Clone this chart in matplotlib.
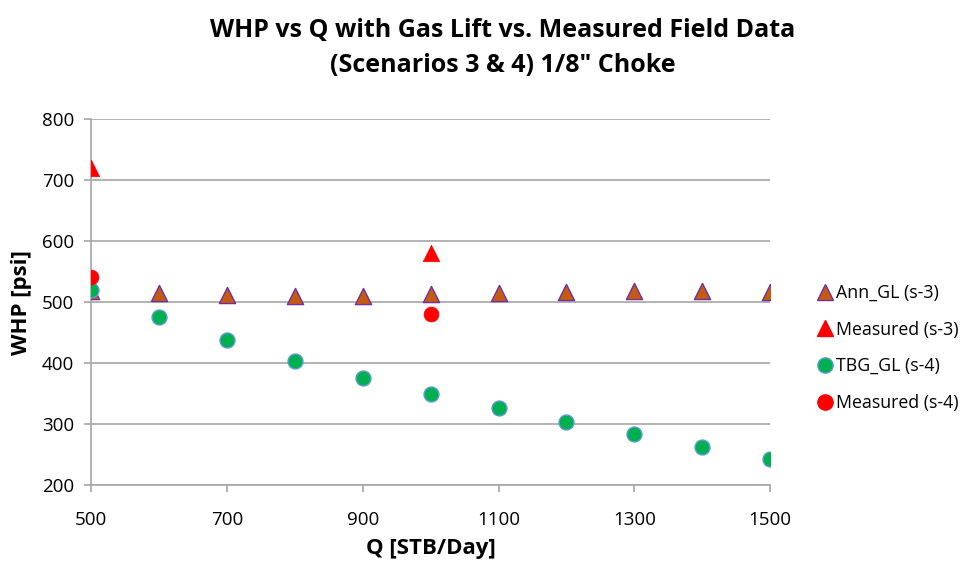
import matplotlib
matplotlib.use("Agg")
import matplotlib.pyplot as plt
from matplotlib.lines import Line2D

plt.rcParams['font.family'] = ['Open Sans', 'DejaVu Sans']

# Flow rates (STB/Day)
q = [500, 600, 700, 800, 900, 1000, 1100, 1200, 1300, 1400, 1500]

# Annulus gas lift model, scenario 3
ann_gl = [518, 515, 511, 510, 510, 513, 515, 517, 518, 518, 517]
# Tubing gas lift model, scenario 4
tbg_gl = [520, 475, 437, 404, 376, 350, 327, 304, 283, 262, 242]

# Measured field data
meas_s3_q = [500, 1000]
meas_s3 = [720, 580]
meas_s4_q = [500, 1000]
meas_s4 = [541, 480]

x_ticks = [500, 700, 900, 1100, 1300, 1500]
y_ticks = [200, 300, 400, 500, 600, 700, 800]

fig = plt.figure(figsize=(9.7, 5.62), dpi=100)
ax = fig.add_axes([0.0938, 0.137, 0.7002, 0.651])

ax.scatter(q, ann_gl, marker='^', s=135, color='#C55A11', edgecolors='#7030A0',
           linewidths=1.0, zorder=3, label='Ann_GL (s-3)')
ax.scatter(meas_s3_q, meas_s3, marker='^', s=140, color='#FF0000', edgecolors='#FF0000',
           linewidths=0.5, zorder=4, label='Measured (s-3)')
ax.scatter(q, tbg_gl, marker='o', s=115, color='#00B050', edgecolors='#5B9BD5',
           linewidths=1.0, zorder=5, label='TBG_GL (s-4)')
ax.scatter(meas_s4_q, meas_s4, marker='o', s=115, color='#FF0000', edgecolors='#FF0000',
           linewidths=0.5, zorder=6, label='Measured (s-4)')

ax.set_xlim(500, 1500)
ax.set_ylim(200, 800)
ax.set_xticks(x_ticks)
ax.set_yticks(y_ticks)
ax.tick_params(axis='both', labelsize=13.5, length=5, color='#A6A6A6', width=1.2)
ax.tick_params(axis='y', pad=7)
ax.tick_params(axis='x', pad=14)
ax.yaxis.grid(True, color='#A6A6A6', linewidth=1.2)
ax.set_axisbelow(True)
for side in ('top', 'right'):
    ax.spines[side].set_visible(False)
for side in ('left', 'bottom'):
    ax.spines[side].set_color('#A6A6A6')
    ax.spines[side].set_linewidth(1.2)

ax.set_xlabel('Q [STB/Day]', fontsize=16, fontweight='bold', labelpad=6)
ax.set_ylabel('WHP [psi]', fontsize=16, fontweight='bold', labelpad=7)

fig.text(0.518, 0.915, 'WHP vs Q with Gas Lift vs. Measured Field Data\n(Scenarios 3 & 4) 1/8" Choke',
         ha='center', va='center', fontsize=18, fontweight='bold', linespacing=1.5)

handles = [
    Line2D([], [], marker='^', linestyle='none', markersize=12, markerfacecolor='#C55A11',
           markeredgecolor='#7030A0', markeredgewidth=1.0),
    Line2D([], [], marker='^', linestyle='none', markersize=12, markerfacecolor='#FF0000',
           markeredgecolor='#FF0000'),
    Line2D([], [], marker='o', linestyle='none', markersize=11, markerfacecolor='#00B050',
           markeredgecolor='#5B9BD5', markeredgewidth=1.0),
    Line2D([], [], marker='o', linestyle='none', markersize=11, markerfacecolor='#FF0000',
           markeredgecolor='#FF0000'),
]
labels = ['Ann_GL (s-3)', 'Measured (s-3)', 'TBG_GL (s-4)', 'Measured (s-4)']
fig.legend(handles, labels, loc='center left', bbox_to_anchor=(0.832, 0.381),
           frameon=False, fontsize=12.8, handletextpad=0.05, labelspacing=1.05,
           handlelength=1.2, borderaxespad=0)

fig.savefig('out.png', dpi=100)
